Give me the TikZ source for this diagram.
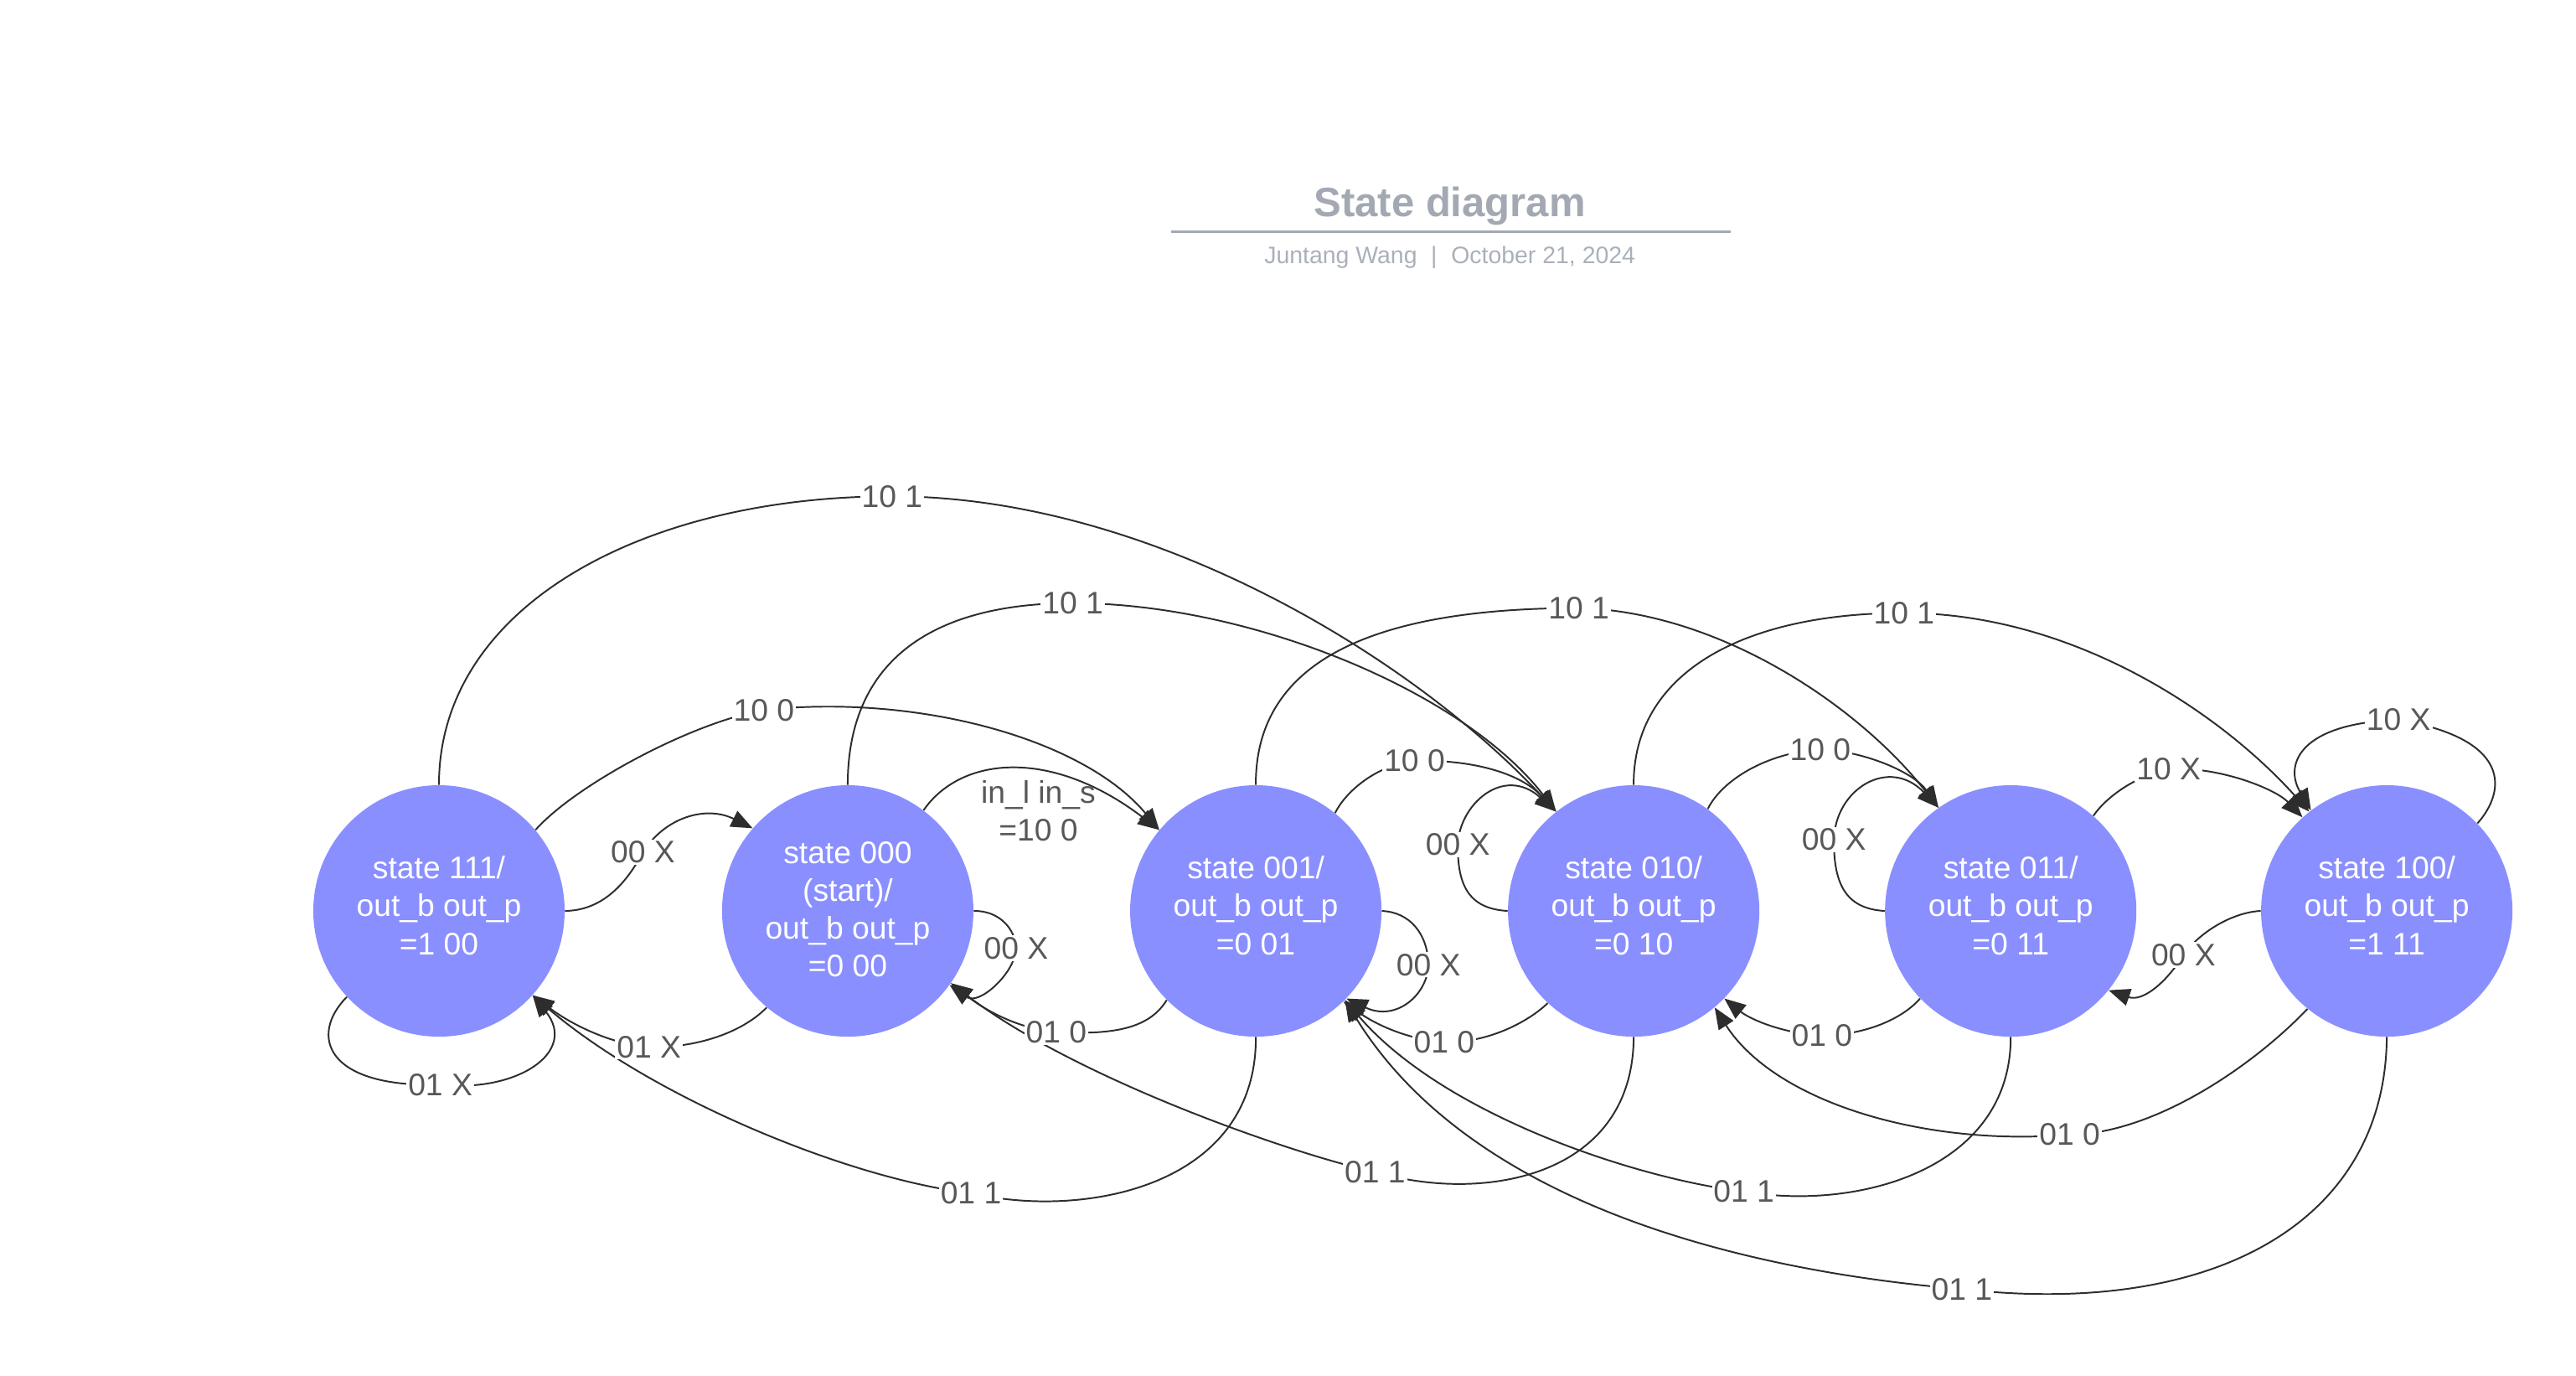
\documentclass[tikz,border=0pt]{standalone}
\usepackage{fontspec}
\setmainfont{Liberation Sans}
\usetikzlibrary{arrows.meta}
\definecolor{nodefill}{RGB}{138,143,255}
\definecolor{edgecol}{RGB}{45,45,45}
\definecolor{labcol}{RGB}{88,88,88}
\definecolor{titlecol}{RGB}{163,169,179}
\definecolor{subcol}{RGB}{170,176,186}
\newcommand\strA{\rule{0pt}{15pt}}
\newcommand\strB{\rule[-8pt]{0pt}{8pt}}
\newcommand\strC{\rule{0pt}{17pt}}
\newcommand\strD{\rule[-6pt]{0pt}{6pt}}
\begin{document}
\begin{tikzpicture}[x=1pt,y=-1pt,
  state/.style={circle, fill=nodefill, draw=none, minimum size=153pt, inner sep=0pt,
    text=white, font=\fontsize{19}{23}\selectfont, align=center},
  edge/.style={draw=edgecol, line width=1pt, -{Triangle[length=13pt,width=10.5pt]}},
  lab/.style={fill=white, text=labcol, font=\fontsize{19}{23}\selectfont, inner sep=1pt},
  labnofill/.style={text=labcol, font=\fontsize{19}{23}\selectfont, inner sep=0pt, align=center},
]
\useasboundingbox (0,0) rectangle (1568,837);

% title
\node[font=\fontsize{25}{30}\selectfont\bfseries, text=titlecol, anchor=base] (title) at (882.5,132) {State diagram};
\coordinate (tl) at (712.7,141);
\coordinate (tr) at (1053.5,141);
\draw[titlecol, line width=1.8pt] (tl) -- (tr);
\node[font=\fontsize{14.5}{17}\selectfont, text=subcol, anchor=base] (sub) at (882.5,160.6) {Juntang Wang\hspace{8.5pt}|\hspace{8.5pt}October 21, 2024};

% states
\node[state] (n111) at (267.2,554.3) {\strA state 111/\\out\_b out\_p\\=1 00\strB};
\node[state] (n000) at (516,554.3) {\strC state 000\\(start)/\\out\_b out\_p\\=0 00\strD};
\node[state] (n001) at (764.4,554.3) {\strA state 001/\\out\_b out\_p\\=0 01\strB};
\node[state] (n010) at (994.4,554.3) {\strA state 010/\\out\_b out\_p\\=0 10\strB};
\node[state] (n011) at (1223.9,554.3) {\strA state 011/\\out\_b out\_p\\=0 11\strB};
\node[state] (n100) at (1452.8,554.3) {\strA state 100/\\out\_b out\_p\\=1 11\strB};

% edges
\draw[edge] (n111.90) .. controls (267,370) and (390,302) .. (543,302) coordinate (l1) .. controls (700,302) and (860,400) .. (n010.128);
\draw[edge] (n000.90) .. controls (516,400) and (570,367) .. (653,367) coordinate (l2) .. controls (760,367) and (890,420) .. (n010.128);
\draw[edge] (n001.90) .. controls (764,400) and (840,370) .. (961,370) coordinate (l3) .. controls (1045,372) and (1130,428) .. (n011.125);
\draw[edge] (n010.90) .. controls (994,410) and (1060,373) .. (1159,373) coordinate (l4) .. controls (1260,373) and (1350,432) .. (n100.128);
\draw[edge] (n111.40) .. controls (350,478) and (420,440) .. (465,432) coordinate (l5) .. controls (560,422) and (660,450) .. (n001.140);
\draw[edge] (n000.53) .. controls (585,460) and (640,455) .. (n001.140);
\draw[edge] (n111.0) .. controls (365,554) and (380,540) .. (391.3,518.6) coordinate (l7) .. controls (405,497) and (430,490) .. (n000.139);
\draw[edge] (n000.0) .. controls (608,554) and (618,565) .. (618.5,577) coordinate (l8) .. controls (618,592) and (596,612) .. (n000.-36);
\draw[edge] (n000.-130) .. controls (450,630) and (420,638) .. (395,637) coordinate (l9) .. controls (375,636) and (350,625) .. (n111.-42);
\draw[edge] (n111.-137) .. controls (188,630) and (198,662) .. (268,660) coordinate (l10) .. controls (315,665) and (352,640) .. (n111.-42);
\draw[edge] (n001.-90) .. controls (765,722) and (660,742) .. (591,726) coordinate (l11) .. controls (520,718) and (400,670) .. (n111.-42);
\draw[edge] (n001.-135) .. controls (700,625) and (680,630) .. (643,628) coordinate (l12) .. controls (620,626) and (600,615) .. (n000.-35);
\draw[edge] (n001.0) .. controls (858,555) and (869,568) .. (869.5,587) coordinate (l13) .. controls (869,605) and (850,622) .. (n001.-44);
\draw[edge] (n001.51) .. controls (820,480) and (840,465) .. (861,463) coordinate (l14) .. controls (895,462) and (925,470) .. (n010.128);
\draw[edge] (n010.180) .. controls (895,553) and (887,540) .. (887.4,514) coordinate (l15) .. controls (888,490) and (915,465) .. (n010.128);
\draw[edge] (n010.-133) .. controls (930,622) and (905,635) .. (879,634) coordinate (l16) .. controls (860,633) and (840,625) .. (n001.-46);
\draw[edge] (n010.-90) .. controls (994,718) and (900,732) .. (837,713) coordinate (l17) .. controls (800,706) and (660,660) .. (n000.-35);
\draw[edge] (n010.54) .. controls (1048,475) and (1075,458) .. (1108,456) coordinate (l18) .. controls (1135,457) and (1165,470) .. (n011.125);
\draw[edge] (n011.180) .. controls (1125,553) and (1116,540) .. (1116.3,511) coordinate (l19) .. controls (1117,480) and (1150,460) .. (n011.125);
\draw[edge] (n011.-136) .. controls (1158,620) and (1135,630) .. (1109,630) coordinate (l20) .. controls (1085,629) and (1065,620) .. (n010.-44);
\draw[edge] (n011.-90) .. controls (1224,712) and (1130,737) .. (1061.5,725) coordinate (l21) .. controls (1000,718) and (880,680) .. (n001.-45);
\draw[edge] (n011.49) .. controls (1282,485) and (1300,472) .. (1320,468) coordinate (l22) .. controls (1350,466) and (1385,480) .. (n100.132);
\draw[edge] (n100.44) .. controls (1525,482) and (1530,450) .. (1460,438) coordinate (l23) .. controls (1400,440) and (1390,465) .. (n100.127);
\draw[edge] (n100.180) .. controls (1360,555) and (1340,566) .. (1329,581) coordinate (l24) .. controls (1320,596) and (1305,610) .. (n011.-39);
\draw[edge] (n100.-129) .. controls (1370,650) and (1310,690) .. (1259.8,690.4) coordinate (l25) .. controls (1170,698) and (1080,670) .. (n010.-50);
\draw[edge] (n100.-90) .. controls (1452,742) and (1350,802) .. (1194.2,784.4) coordinate (l26) .. controls (1080,775) and (900,740) .. (n001.-45);

% labels
\node[lab] at (l1) {10 1};
\node[lab] at (l2) {10 1};
\node[lab] at (l3) {10 1};
\node[lab] at (l4) {10 1};
\node[lab] at (l5) {10 0};
\node[labnofill] (l6) at (632,496.7) {\strA in\_l in\_s\\=10 0\strB};
\node[lab] at (l7) {00 X};
\node[lab] at (l8) {00 X};
\node[lab] at (l9) {01 X};
\node[lab] at (l10) {01 X};
\node[lab] at (l11) {01 1};
\node[lab] at (l12) {01 0};
\node[lab] at (l13) {00 X};
\node[lab] at (l14) {10 0};
\node[lab] at (l15) {00 X};
\node[lab] at (l16) {01 0};
\node[lab] at (l17) {01 1};
\node[lab] at (l18) {10 0};
\node[lab] at (l19) {00 X};
\node[lab] at (l20) {01 0};
\node[lab] at (l21) {01 1};
\node[lab] at (l22) {10 X};
\node[lab] at (l23) {10 X};
\node[lab] at (l24) {00 X};
\node[lab] at (l25) {01 0};
\node[lab] at (l26) {01 1};
\end{tikzpicture}
\end{document}
